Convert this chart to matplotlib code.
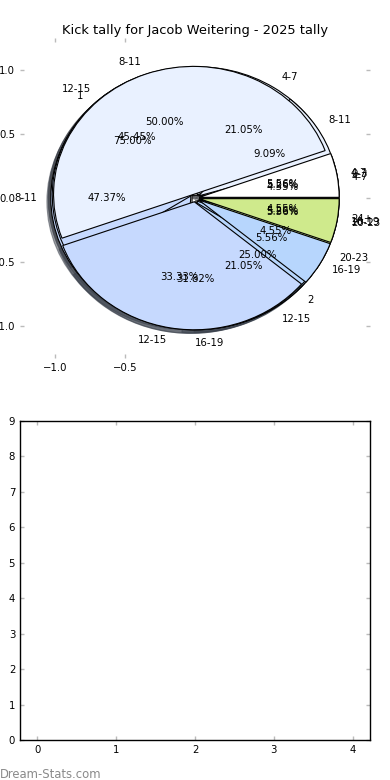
import matplotlib
matplotlib.use("Agg")
import matplotlib.pyplot as plt

TITLE = "Kick tally for Jacob Weitering - 2025 tally"

# one pie per tally, drawn on top of each other (last one ends up on top)
labels_d = ["1", "2"]
counts_d = [3, 1]

labels_a = ["0-3", "4-7", "8-11", "12-15", "16-19"]
counts_a = [1, 4, 9, 4, 1]

labels_b = ["4-7", "8-11", "12-15", "16-19", "20-23", "24+"]
counts_b = [1, 2, 10, 7, 1, 1]

labels_c = ["4-7", "8-11", "12-15", "16-19", "20-23"]
counts_c = [1, 9, 6, 1, 1]

pie_colors = ["#ffffff", "#e9f1ff", "#c6d9fe", "#b7d6fd", "#cfea8c", "#fbe3a6"]

x_ticks = [-1.0, -0.5]
y_ticks = [-1.0, -0.5, 0.0, 0.5, 1.0]
bar_x_ticks = [0, 1, 2, 3, 4]
bar_y_ticks = [0, 1, 2, 3, 4, 5, 6, 7, 8, 9]

TICK_GREY = "#bbbbbb"
FS = 7.3

fig = plt.figure(figsize=(3.9, 7.8), dpi=100)
ax = fig.add_axes([20 / 390, 1 - 358 / 780, 350 / 390, 320 / 780])
ax2 = fig.add_axes([20 / 390, 40 / 780, 350 / 390, 319 / 780])

for labels, counts in [(labels_d, counts_d), (labels_a, counts_a),
                       (labels_b, counts_b), (labels_c, counts_c)]:
    ax.pie(counts, labels=labels, colors=pie_colors[:len(counts)],
           explode=[0.03] * len(counts), shadow=True, startangle=0,
           autopct="%1.2f%%",
           wedgeprops={"edgecolor": "black", "linewidth": 0.8},
           textprops={"fontsize": FS})

ax.set_aspect("auto")
ax.set_xlim(-1.25, 1.25)
ax.set_ylim(-1.25, 1.25)
ax.set_xticks(x_ticks)
ax.set_yticks(y_ticks)
ax.tick_params(direction="in", length=3, color=TICK_GREY, labelsize=FS,
               top=True, right=True, width=1)
ax.set_title(TITLE, fontsize=9.4, pad=3)

ax2.set_xlim(-0.22, 4.22)
ax2.set_ylim(0, 9)
ax2.set_xticks(bar_x_ticks)
ax2.set_yticks(bar_y_ticks)
ax2.tick_params(direction="in", length=3, color=TICK_GREY, labelsize=FS,
                top=True, right=True, width=1)
for sp in ax2.spines.values():
    sp.set_linewidth(1)

fig.text(0.0, 0.003, "Dream-Stats.com", color="#8a8a8a", fontsize=8.4)

fig.savefig("out.png", dpi=100)
